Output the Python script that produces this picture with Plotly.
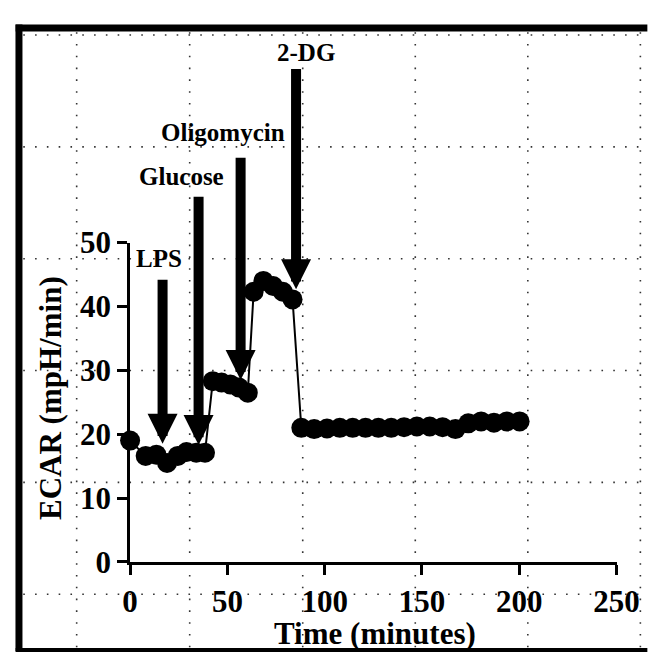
import plotly.graph_objects as go

# ---------------- data ----------------
time_min = [0, 8, 13.5, 19, 24.5, 29, 34, 38.5,
            42.5, 47, 51.5, 56, 60.5,
            63.5, 68.5, 73.5, 78.5, 83.5,
            88.0, 94.6, 101.2, 107.8, 114.4, 121.0, 127.6, 134.2, 140.8,
            147.4, 154.0, 160.6, 167.2, 173.8, 180.4, 187.0, 193.6, 200.2]
ecar = [19.0, 16.6, 16.8, 15.5, 16.6, 17.2, 17.1, 17.1,
        28.3, 28.1, 27.8, 27.3, 26.5,
        42.3, 44.0, 43.2, 42.3, 41.1,
        21.0, 20.8, 20.9, 21.0, 21.0, 21.0, 21.0, 21.0, 21.1,
        21.2, 21.2, 21.1, 20.8, 21.7, 22.0, 21.8, 22.0, 22.0]

inj_labels = ["LPS", "Glucose", "Oligomycin", "2-DG"]
inj_time = [16.7, 35.2, 56.8, 85.3]
arrow_tip = [18.5, 18.3, 28.5, 42.7]
arrow_top = [44.4, 57.4, 63.5, 77.4]
label_t = [14.7, 26.5, 47.5, 90.2]
label_v = [47.5, 60.4, 67.2, 79.8]

x_ticks = [0, 50, 100, 150, 200, 250]
y_ticks = [0, 10, 20, 30, 40, 50]

# ---------------- layout helpers ----------------
W, H = 671, 670
XD = [128 / W, 638 / W]
YD = [1 - 575 / H, 1 - 238 / H]
X_RANGE = [0, 250]
Y_RANGE = [0, 50]
FONT = "Liberation Serif"


def to_paper(t, v):
    px = XD[0] + (t - X_RANGE[0]) / (X_RANGE[1] - X_RANGE[0]) * (XD[1] - XD[0])
    py = YD[0] + (v - Y_RANGE[0]) / (Y_RANGE[1] - Y_RANGE[0]) * (YD[1] - YD[0])
    return px, py


fig = go.Figure()
fig.add_trace(go.Scatter(
    x=time_min, y=ecar, mode="lines+markers",
    line=dict(color="black", width=2),
    marker=dict(color="black", size=20),
    cliponaxis=False, showlegend=False,
))

shapes = []
# dotted page grid in the background (decoration)
grid_x_px = [72, 190.5, 309, 427, 545, 663]
grid_y_px = [19, 137, 255, 373, 491, 609]
for gx in grid_x_px:
    shapes.append(dict(type="line", xref="paper", yref="paper",
                       x0=gx / W, x1=gx / W, y0=1 - 16 / H, y1=1 - 665 / H,
                       line=dict(color="#333", width=1.6, dash="1.6px,10.2px"),
                       layer="below"))
for gy in grid_y_px:
    shapes.append(dict(type="line", xref="paper", yref="paper",
                       x0=16 / W, x1=0.999, y0=1 - gy / H, y1=1 - gy / H,
                       line=dict(color="#333", width=1.6, dash="1.6px,10.2px"),
                       layer="below"))
# outer frame (left, top, bottom)
frame = dict(color="black", width=7)
shapes.append(dict(type="line", xref="paper", yref="paper",
                   x0=11.5 / W, x1=11.5 / W, y0=1 - 8 / H, y1=0.001,
                   line=frame, layer="above"))
shapes.append(dict(type="line", xref="paper", yref="paper",
                   x0=8 / W, x1=0.999, y0=1 - 11.5 / H, y1=1 - 11.5 / H,
                   line=frame, layer="above"))
shapes.append(dict(type="line", xref="paper", yref="paper",
                   x0=8 / W, x1=0.999, y0=1 - 668 / H, y1=1 - 668 / H,
                   line=dict(color="black", width=4), layer="above"))

annotations = []
# injection arrows
for t, tip, top in zip(inj_time, arrow_tip, arrow_top):
    annotations.append(dict(
        x=t, y=tip, xref="x", yref="y", ax=t, ay=top, axref="x", ayref="y",
        text="", showarrow=True, arrowhead=2, arrowwidth=10, arrowsize=0.6,
        arrowcolor="black", standoff=0,
    ))
# injection labels
for lab, t, v in zip(inj_labels, label_t, label_v):
    px, py = to_paper(t, v)
    annotations.append(dict(
        x=px, y=py, xref="paper", yref="paper", text=lab, showarrow=False,
        xanchor="center", yanchor="middle",
        font=dict(family=FONT, size=25, weight="bold", color="black"),
    ))
# axis titles
annotations.append(dict(
    x=384.5 / W, y=1 - 650 / H, xref="paper", yref="paper",
    text="Time (minutes)", showarrow=False, xanchor="center", yanchor="middle",
    font=dict(family=FONT, size=31, weight="bold", color="black"),
))
annotations.append(dict(
    x=44 / W, y=1 - 402 / H, xref="paper", yref="paper", textangle=-90,
    text="ECAR (mpH/min)", showarrow=False, xanchor="center", yanchor="middle",
    font=dict(family=FONT, size=31, weight="bold", color="black"),
))

axis_common = dict(
    showgrid=False, zeroline=False, showline=True, linecolor="black",
    linewidth=3, ticks="outside", ticklen=10, tickwidth=3, tickcolor="black",
    tickfont=dict(family=FONT, size=31, weight="bold", color="black"),
)

fig.update_layout(
    width=W, height=H,
    margin=dict(l=0, r=0, t=0, b=0),
    paper_bgcolor="white",
    plot_bgcolor="rgba(0,0,0,0)",
    xaxis=dict(domain=XD, range=X_RANGE, tickvals=x_ticks, **axis_common),
    yaxis=dict(domain=YD, range=Y_RANGE, tickvals=y_ticks, **axis_common),
    shapes=shapes,
    annotations=annotations,
    showlegend=False,
)

ps = (
    "document.documentElement.style.margin='0';document.documentElement.style.padding='0';"
    "document.body.style.margin='0';document.body.style.padding='0';"
    "document.documentElement.style.overflow='hidden';document.body.style.overflow='hidden';"
)
fig.write_html("out.html", config={"displayModeBar": False}, post_script=ps)
